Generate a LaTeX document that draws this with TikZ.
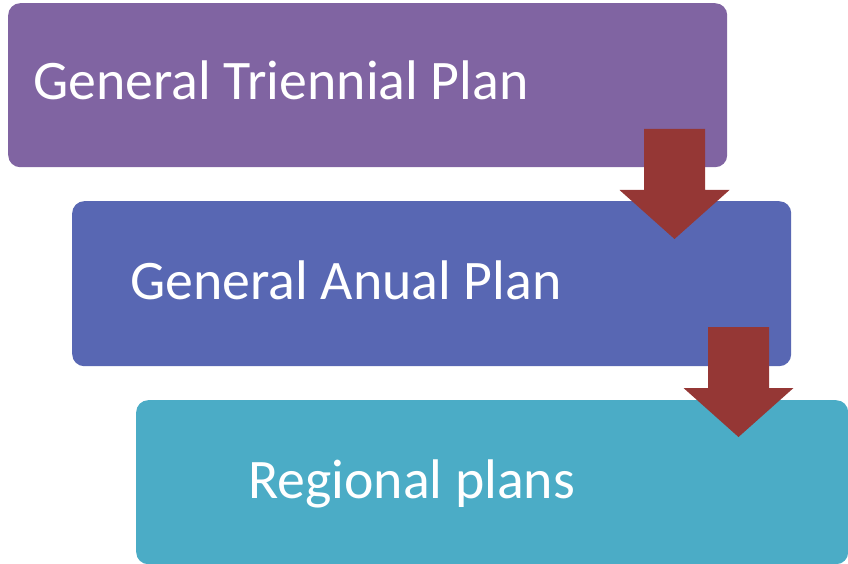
\documentclass[tikz,border=0pt]{standalone}
\usepackage{fontspec}
\setmainfont{Carlito}
\usepackage{xcolor}
\usepackage{tikz}
\definecolor{planpurple}{HTML}{8064A2}
\definecolor{planblue}{HTML}{5867B3}
\definecolor{planteal}{HTML}{4BACC6}
\definecolor{arrowred}{HTML}{953735}
\newcommand{\downblock}[1]{\fill [arrowred] (#1) ++(-30.5,0) -- ++(61,0) -- ++(0,61) -- ++(24.5,0) -- ++(-55,49) -- ++(-55,-49) -- ++(24.5,0) -- cycle}

\begin{document}
\begin{tikzpicture}[x=1pt,y=-1pt,
    planbox/.style={rectangle,rounded corners=12pt,inner sep=0pt,anchor=north west},
    plantext/.style={anchor=base west,inner sep=0pt,text=white,font=\fontsize{55.8}{66}\selectfont}]
    \useasboundingbox (0,0) rectangle (848,564);

    \node[planbox,fill=planpurple,minimum width=719pt,minimum height=164pt] (triennial) at (8,3) {};
    \node[planbox,fill=planblue,minimum width=719pt,minimum height=165pt] (anual) at (72,201) {};
    \node[planbox,fill=planteal,minimum width=712pt,minimum height=164pt] (regional) at (136,400) {};

    \node[plantext] (t1) at (33,100) {General Triennial Plan};
    \node[plantext] (t2) at (130,299) {General Anual Plan};
    \node[plantext] (t3) at (248,498) {Regional plans};

    \coordinate (a1) at (674.5,129);
    \coordinate (a2) at (738.5,327);
    \downblock{a1};
    \downblock{a2};
\end{tikzpicture}
\end{document}
